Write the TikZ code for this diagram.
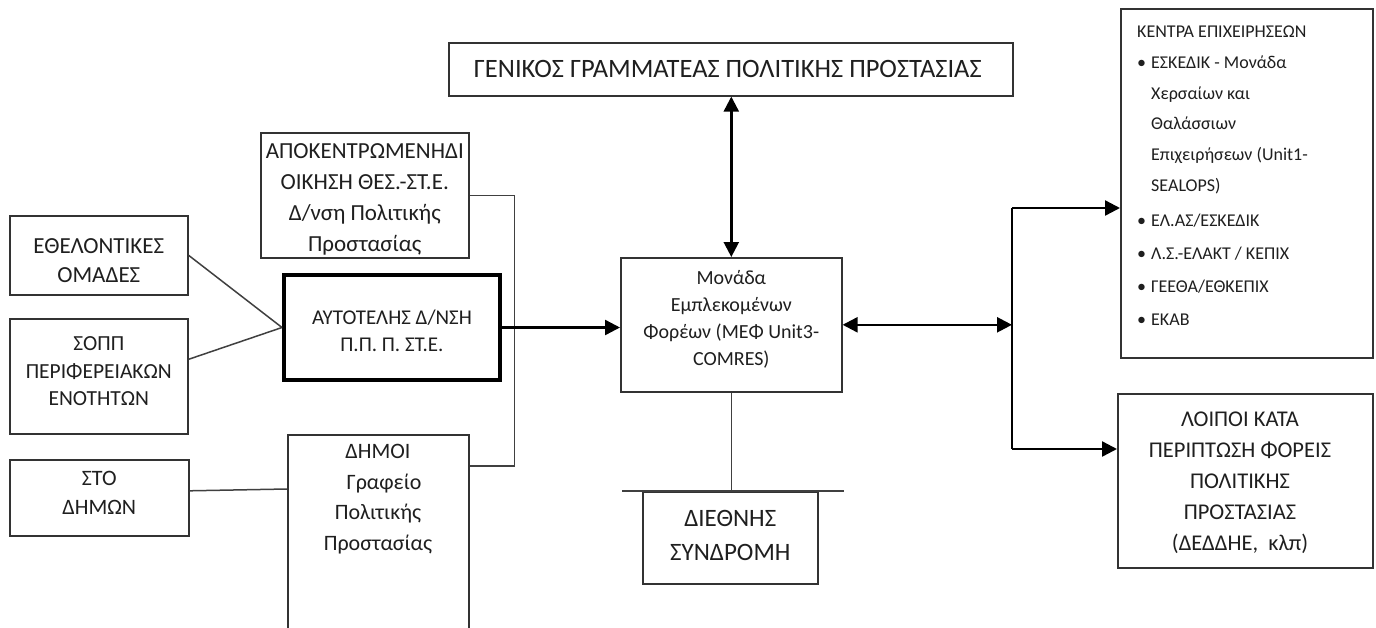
\documentclass[tikz,border=0pt]{standalone}
\usepackage{fontspec}
\setmainfont{Carlito}
\usetikzlibrary{arrows.meta,calc}
\newcommand\fsz[2]{\fontsize{#1pt}{#2pt}\selectfont}
\begin{document}
\begin{tikzpicture}[x=1pt,y=-1pt,
  box/.style={draw=black!80, line width=1.6pt, inner sep=0pt, anchor=north west},
  txt/.style={align=center, inner sep=0pt, text=black!88},
  conn/.style={draw=black!75, line width=1.5pt},
  arr/.style={draw=black, line width=2.4pt, -{Triangle[length=15pt,width=15pt]}},
  darr/.style={draw=black, line width=2.4pt, {Triangle[length=15pt,width=15pt]}-{Triangle[length=15pt,width=15pt]}},
]
\fill[white] (0,0) rectangle (1376,627);
\useasboundingbox (0,0) rectangle (1376,627);
\clip (0,0) rectangle (1376,627);

% boxes
\node[box, minimum width=564pt, minimum height=53pt] (gen) at (448,42) {};
\node[txt, font=\fsz{26.5}{32}] (gent) at ($(gen.center)+(-3,0)$) {ΓΕΝΙΚΟΣ ΓΡΑΜΜΑΤΕΑΣ ΠΟΛΙΤΙΚΗΣ ΠΡΟΣΤΑΣΙΑΣ};

\node[box, minimum width=208pt, minimum height=125pt] (apok) at (260,132) {};
\node[txt, font=\fsz{23}{31}] (apokt) at ($(apok.center)+(0,4)$) {ΑΠΟΚΕΝΤΡΩΜΕΝΗΔΙ\\ΟΙΚΗΣΗ ΘΕΣ.-ΣΤ.Ε.\\Δ/νση Πολιτικής\\Προστασίας};

\node[box, minimum width=178pt, minimum height=79pt] (ethel) at (9,215) {};
\node[txt, font=\fsz{23}{29}] (ethelt) at ($(ethel.center)+(0,5)$) {ΕΘΕΛΟΝΤΙΚΕΣ\\ΟΜΑΔΕΣ};

\node[box, minimum width=178pt, minimum height=115pt] (sopp) at (9,318) {};
\node[txt, font=\fsz{21.5}{27.5}] (soppt) at ($(sopp.center)+(0,-5)$) {ΣΟΠΠ\\ΠΕΡΙΦΕΡΕΙΑΚΩΝ\\ΕΝΟΤΗΤΩΝ};

\node[box, draw=black, line width=4pt, minimum width=216pt, minimum height=105pt] (aut) at (282,273) {};
\node[txt, font=\fsz{21}{27}] (autt) at ($(aut.center)+(0,3)$) {ΑΥΤΟΤΕΛΗΣ Δ/ΝΣΗ\\Π.Π. Π. ΣΤ.Ε.};

\node[box, minimum width=179pt, minimum height=76pt] (sto) at (9,459) {};
\node[txt, font=\fsz{22}{29}] (stot) at ($(sto.center)+(0,-4.5)$) {ΣΤΟ\\ΔΗΜΩΝ};

\node[box, minimum width=181pt, minimum height=220pt] (dimoi) at (287,434) {};
\node[txt, font=\fsz{22}{30.7}] (dimoit) at (378,499) {ΔΗΜΟΙ\\\hspace*{12pt}Γραφείο\\Πολιτικής\\Προστασίας};

\node[box, minimum width=221pt, minimum height=134pt] (mef) at (620,257) {};
\node[txt, font=\fsz{20}{27}] (meft) at ($(mef.center)+(0,-5)$) {Μονάδα\\Εμπλεκομένων\\Φορέων (ΜΕΦ Unit3-\\COMRES)};

\node[box, minimum width=175pt, minimum height=92pt] (dief) at (642,491) {};
\node[txt, font=\fsz{25}{34}] (dieft) at ($(dief.center)+(0,-2)$) {ΔΙΕΘΝΗΣ\\ΣΥΝΔΡΟΜΗ};

\node[box, minimum width=252pt, minimum height=349pt] (kentra) at (1120,8) {};
\node[txt, align=left, anchor=north west, font=\fsz{18}{30.7}] (kentrat) at (1137,26) {ΚΕΝΤΡΑ ΕΠΙΧΕΙΡΗΣΕΩΝ\\
\makebox[14pt][l]{•}ΕΣΚΕΔΙΚ - Μονάδα\\
\hspace*{14pt}Χερσαίων και\\
\hspace*{14pt}Θαλάσσιων\\
\hspace*{14pt}Επιχειρήσεων (Unit1-\\
\hspace*{14pt}SEALOPS)\\[4pt]
\makebox[14pt][l]{•}ΕΛ.ΑΣ/ΕΣΚΕΔΙΚ\\[2.5pt]
\makebox[14pt][l]{•}Λ.Σ.-ΕΛΑΚΤ / ΚΕΠΙΧ\\[2.5pt]
\makebox[14pt][l]{•}ΓΕΕΘΑ/ΕΘΚΕΠΙΧ\\[2.5pt]
\makebox[14pt][l]{•}ΕΚΑΒ};

\node[box, minimum width=255pt, minimum height=174pt] (loipoi) at (1117,393) {};
\node[txt, font=\fsz{22.5}{31}] (loipoit) at (1240,482.5) {ΛΟΙΠΟΙ ΚΑΤΑ\\ΠΕΡΙΠΤΩΣΗ ΦΟΡΕΙΣ\\ΠΟΛΙΤΙΚΗΣ\\ΠΡΟΣΤΑΣΙΑΣ\\(ΔΕΔΔΗΕ, \ κλπ)};

% connectors
\draw[conn] (ethel.east) -- (aut.west);
\draw[conn] ($(sopp.east)+(0,-17)$) -- (aut.west);
\draw[conn] ($(sto.east)+(0,-7)$) -- ($(dimoi.north west)+(0,55)$);
\draw[conn] (apok.east) -- ++(45,0) |- ($(dimoi.north east)+(0,32)$);
\draw[arr] (aut.east) -- (aut.east -| mef.west);
\draw[darr] (mef.north |- gen.south) -- (mef.north);
\draw[conn] (mef.south) -- (dief.north -| mef.south);
\draw[conn] ($(dief.north west)+(-20,0)$) -- ($(dief.north east)+(25,0)$);

\coordinate (bt) at (1012,208);
\coordinate (bb) at (1012,449);
\draw[draw=black, line width=2pt] (bt) -- (bb);
\draw[arr] (bt) -- (bt -| kentra.west);
\draw[arr] (bb) -- (bb -| loipoi.west);
\draw[darr] (mef.east) -- (mef.east -| bt);
\end{tikzpicture}
\end{document}
